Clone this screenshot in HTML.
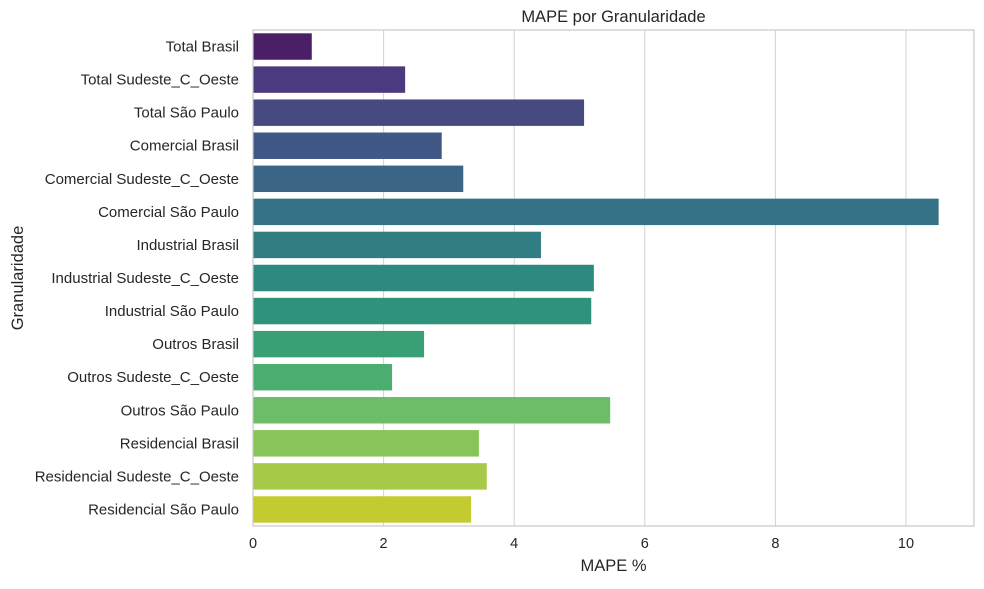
<!DOCTYPE html>
<html><head><meta charset="utf-8"><style>
body{margin:0;background:#fff;font-family:"Liberation Sans",Arial,sans-serif;}
svg text{font-family:"Liberation Sans",Arial,sans-serif;fill:#262626;}
</style></head><body>
<svg id="chart" width="984" height="584" xmlns="http://www.w3.org/2000/svg"></svg>
<script>
const categories=["Total Brasil","Total Sudeste_C_Oeste","Total São Paulo","Comercial Brasil","Comercial Sudeste_C_Oeste","Comercial São Paulo","Industrial Brasil","Industrial Sudeste_C_Oeste","Industrial São Paulo","Outros Brasil","Outros Sudeste_C_Oeste","Outros São Paulo","Residencial Brasil","Residencial Sudeste_C_Oeste","Residencial São Paulo"];
const values=[0.90,2.33,5.07,2.89,3.22,10.5,4.41,5.22,5.18,2.62,2.13,5.47,3.46,3.58,3.34];
const colors=["#4a1f68","#4b3a7f","#464a80","#3f5886","#3b6586","#357285","#307d82","#2c8a80","#2f937c","#39a075","#4bad6f","#6cbc68","#88c45a","#a6c948","#c4cb30"];
const xTicks=[0,2,4,6,8,10];
const NS="http://www.w3.org/2000/svg";
const svg=document.getElementById('chart');
const L=253,R=974,T=30,B=526,XMAX=(R-L)/65.3;
const x=v=>L+v/XMAX*(R-L);
const band=(B-T)/categories.length;
const y=i=>T+i*band;
function mk(t,a,txt){const e=document.createElementNS(NS,t);for(const k in a)e.setAttribute(k,a[k]);if(txt!==undefined)e.textContent=txt;svg.appendChild(e);return e;}
xTicks.forEach(t=>{
 const g=mk('line',{x1:x(t),x2:x(t),y1:T,y2:B,stroke:'#d2d2d2','stroke-width':1});
 
 
 const l=mk('text',{x:x(t),y:B+22,'text-anchor':'middle','font-size':14.5},t);
 
 
});
categories.forEach((c,i)=>{
 const h=band*0.8;
 const r=mk('rect',{x:L,y:y(i)+band*0.1,width:x(values[i])-L,height:h,fill:colors[i]});
 
 
 const l=mk('text',{x:L-14,y:y(i)+band/2+5,'text-anchor':'end','font-size':15},c);
 
 
});
const f=mk('rect',{x:L,y:T,width:R-L,height:B-T,fill:'none',stroke:'#c8c8c8','stroke-width':1.2});


const ti=mk('text',{x:(L+R)/2,y:22,'text-anchor':'middle','font-size':16.5},'MAPE por Granularidade');


const xl=mk('text',{x:(L+R)/2,y:571,'text-anchor':'middle','font-size':16.5},'MAPE %');


const yl=mk('text',{x:0,y:0,'text-anchor':'middle','font-size':16.5,transform:'translate(23,'+((T+B)/2)+') rotate(-90)'},'Granularidade');


</script>
</body></html>
